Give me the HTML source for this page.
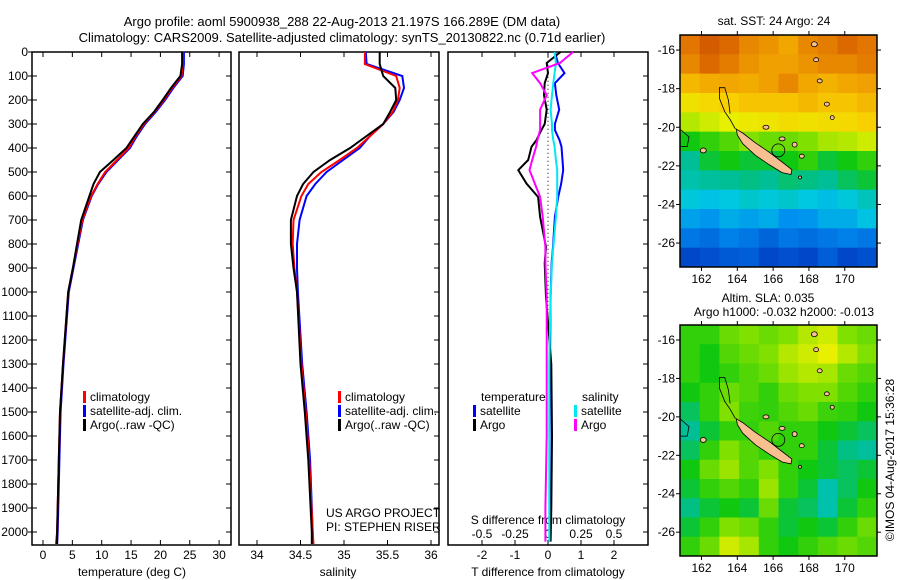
<!DOCTYPE html>
<html><head><meta charset="utf-8">
<style>
html,body{margin:0;padding:0;background:#fff;}
svg{display:block;font-family:"Liberation Sans",sans-serif;}
text{font-size:12px;fill:#000;}
</style></head>
<body>
<svg id="chart" width="900" height="580" viewBox="0 0 900 580" xmlns="http://www.w3.org/2000/svg">
<text x="342" y="26" text-anchor="middle" style="font-size:13px">Argo profile: aoml 5900938_288 22-Aug-2013 21.197S 166.289E (DM data)</text>
<text x="342" y="42" text-anchor="middle" style="font-size:13px">Climatology: CARS2009. Satellite-adjusted climatology: synTS_20130822.nc (0.71d earlier)</text>
<g id="g"></g>
<text x="774" y="25" text-anchor="middle">sat. SST: 24 Argo: 24</text>
<text x="768" y="302" text-anchor="middle">Altim. SLA: 0.035</text>
<text x="784" y="316" text-anchor="middle">Argo h1000: -0.032 h2000: -0.013</text>
<text transform="translate(894,460) rotate(-90)" text-anchor="middle">©IMOS 04-Aug-2017 15:36:28</text>
<text x="326" y="517">US ARGO PROJECT</text>
<text x="326" y="531">PI: STEPHEN RISER</text>
</svg>
<script>
// ---- profile data ----
const depths = [0,50,100,150,200,250,300,350,400,450,500,550,600,700,800,900,1000,1300,1500,1700,2000,2050];
const tempClim = [23.8,23.8,23.6,22.0,20.6,19.0,17.2,15.8,14.6,12.6,10.6,9.3,8.2,6.7,5.9,5.1,4.3,3.4,2.9,2.7,2.4,2.2];
const tempSat  = [24.0,24.0,23.8,22.2,20.8,19.2,17.4,16.0,14.8,12.8,10.8,9.4,8.3,6.8,6.0,5.2,4.4,3.5,3.0,2.8,2.5,2.4];
const tempArgo = [23.7,23.7,23.4,21.8,20.4,18.9,17.0,15.6,14.2,12.0,9.7,8.6,7.9,6.5,5.8,5.1,4.3,3.4,2.9,2.7,2.4,2.4];
const salClim = [35.24,35.24,35.6,35.64,35.62,35.56,35.45,35.3,35.15,34.95,34.74,34.59,34.51,34.42,34.41,34.43,34.46,34.51,34.56,34.6,34.64,34.65];
const salSat  = [35.25,35.26,35.67,35.69,35.64,35.57,35.45,35.3,35.18,34.99,34.8,34.67,34.57,34.49,34.46,34.46,34.47,34.52,34.57,34.61,34.64,34.64];
const salArgo = [35.41,35.41,35.45,35.59,35.6,35.53,35.45,35.26,35.07,34.84,34.65,34.53,34.46,34.39,34.39,34.42,34.46,34.5,34.55,34.59,34.63,34.63];
const diffDepths = [0,46,88,130,180,240,300,325,367,395,450,492,548,604,687,812,880,1020,1300,1600,1900,2040];
const tDiffArgo = [0.38,-0.04,0.0,-0.1,-0.12,-0.04,-0.1,-0.2,-0.35,-0.5,-0.6,-0.9,-0.65,-0.3,-0.24,-0.06,-0.1,-0.06,0.1,0.12,0.1,0.08];
const tDiffSat  = [0.21,0.3,0.5,0.21,0.25,0.34,0.21,0.21,0.35,0.41,0.44,0.46,0.4,0.31,0.21,0.15,0.11,0.08,0.06,0.05,0.05,0.05];
const sDiffArgo = [0.19,0.09,-0.12,-0.06,-0.01,-0.06,-0.06,-0.06,-0.08,-0.09,-0.12,-0.14,-0.1,-0.06,-0.04,-0.02,-0.02,-0.01,-0.01,-0.01,-0.02,-0.02];
const sDiffSat  = [0.05,0.06,0.05,0.04,0.03,0.02,0.03,0.03,0.04,0.05,0.06,0.07,0.07,0.07,0.06,0.04,0.03,0.02,0.01,0.01,0.01,0.01];
const depthTicks = [0,100,200,300,400,500,600,700,800,900,1000,1100,1200,1300,1400,1500,1600,1700,1800,1900,2000];
const tempTicks = [0,5,10,15,20,25,30];
const salTicks = [34,34.5,35,35.5,36];
const salTickLabels = ["34","34.5","35","35.5","36"];
const tdTicks = [-2,-1,0,1,2];
const sdTicks = [-0.5,-0.25,0,0.25,0.5];
const sdTickLabels = ["-0.5","-0.25","0","0.25","0.5"];
const lonTicks = [162,164,166,168,170];
const latTicks = [-16,-18,-20,-22,-24,-26];
// ---- map data (rows north->south, cols west->east), normalized colour value ----
const sstGrid = [
[.93,.97,.95,.90,.88,.85,.90,.92,.95,.93],
[.90,.95,.92,.88,.86,.86,.88,.90,.90,.92],
[.82,.84,.85,.84,.86,.90,.85,.83,.85,.86],
[.74,.76,.78,.80,.80,.80,.82,.80,.80,.82],
[.66,.68,.70,.72,.73,.75,.74,.75,.76,.78],
[.52,.55,.58,.62,.60,.60,.62,.65,.66,.68],
[.45,.50,.52,.50,.50,.52,.55,.50,.52,.55],
[.42,.44,.45,.46,.45,.47,.46,.45,.48,.50],
[.36,.34,.35,.38,.36,.38,.35,.33,.36,.40],
[.28,.26,.30,.28,.30,.25,.26,.30,.30,.34],
[.20,.18,.22,.20,.16,.20,.18,.20,.22,.20],
[.10,.12,.14,.15,.10,.12,.10,.15,.10,.12]];
const slaGrid = [
[.55,.55,.60,.62,.60,.62,.66,.68,.62,.60],
[.55,.52,.58,.60,.62,.66,.68,.70,.66,.62],
[.55,.52,.55,.58,.60,.64,.66,.65,.60,.58],
[.52,.55,.60,.58,.55,.60,.62,.62,.58,.55],
[.48,.55,.62,.56,.55,.58,.60,.56,.55,.52],
[.45,.50,.55,.55,.58,.55,.55,.52,.50,.48],
[.48,.55,.62,.58,.55,.55,.55,.50,.46,.44],
[.52,.60,.64,.58,.62,.55,.52,.50,.48,.50],
[.50,.55,.58,.55,.64,.55,.50,.42,.48,.52],
[.46,.50,.52,.50,.60,.50,.48,.42,.50,.55],
[.50,.55,.62,.60,.55,.50,.52,.50,.55,.60],
[.55,.60,.68,.65,.55,.52,.55,.58,.60,.58]];

const NS="http://www.w3.org/2000/svg";
const G=document.getElementById('g');
function el(tag,attrs,parent){const e=document.createElementNS(NS,tag);for(const k in attrs)e.setAttribute(k,attrs[k]);(parent||G).appendChild(e);return e;}
function txt(x,y,s,anchor,name){const t=el('text',{x:x,y:y,'text-anchor':anchor||'start'});t.textContent=s;


return t;}

const yD=d=>52+0.24*d;
const PB=545;
const panels=[
 {x0:32,x1:231,f:v=>43+5.87*v,name:'temperature-panel'},
 {x0:239,x1:439,f:v=>257+87*(v-34),name:'salinity-panel'},
 {x0:448,x1:648,f:v=>548+33*v,name:'difference-panel'}];
panels.forEach((p,i)=>{
 const r=el('rect',{x:p.x0,y:52,width:p.x1-p.x0,height:PB-52,fill:'none',stroke:'#000','stroke-width':1.5});
 
 
 depthTicks.forEach(d=>{
  el('line',{x1:p.x1,x2:p.x1-5,y1:yD(d),y2:yD(d),stroke:'#000'});
  if(i===0) el('line',{x1:p.x0,x2:p.x0+5,y1:yD(d),y2:yD(d),stroke:'#000'});
 });
});
depthTicks.forEach(d=>{txt(28,yD(d)+4,String(d),'end','depth-tick-label');
 el('line',{x1:28,x2:32,y1:yD(d),y2:yD(d),stroke:'#000'});});
function xticks(p,ticks,labels,ly){ticks.forEach((v,k)=>{const x=p.f(v);
 el('line',{x1:x,x2:x,y1:52,y2:57,stroke:'#000'});el('line',{x1:x,x2:x,y1:PB,y2:PB-5,stroke:'#000'});
 txt(x,ly,labels[k],'middle','x-tick-label');});}
xticks(panels[0],tempTicks,tempTicks.map(String),559);
xticks(panels[1],salTicks,salTickLabels,559);
xticks(panels[2],tdTicks,tdTicks.map(String),559);
sdTicks.forEach((v,k)=>txt(548+132*v,538,sdTickLabels[k],'middle','s-diff-tick-label'));
txt(132,576,'temperature (deg C)','middle','x-axis-title-temperature');
txt(338,576,'salinity','middle','x-axis-title-salinity');
txt(548,576,'T difference from climatology','middle','x-axis-title-t-diff');
txt(548,524,'S difference from climatology','middle','x-axis-title-s-diff');
el('line',{x1:548,x2:548,y1:yD(20),y2:yD(1100),stroke:'#000','stroke-dasharray':'1,3'});
function line(xs,ys,fx,col,name){const pts=xs.map((v,k)=>fx(v).toFixed(1)+','+yD(ys[k]).toFixed(1)).join(' ');
 const l=el('polyline',{points:pts,fill:'none',stroke:col,'stroke-width':2});
 
 }
const fT=panels[0].f,fS=panels[1].f,fTD=v=>548+33*v,fSD=v=>548+132*v;
line(tempSat,depths,fT,'#0000ff','temp-satellite-line');
line(tempClim,depths,fT,'#ff0000','temp-climatology-line');
line(tempArgo,depths,fT,'#000','temp-argo-line');
line(salSat,depths,fS,'#0000ff','sal-satellite-line');
line(salClim,depths,fS,'#ff0000','sal-climatology-line');
line(salArgo,depths,fS,'#000','sal-argo-line');
line(tDiffSat,diffDepths,fTD,'#0000ff','tdiff-satellite-line');
line(tDiffArgo,diffDepths,fTD,'#000','tdiff-argo-line');
line(sDiffSat,diffDepths,fSD,'#00e8f0','sdiff-satellite-line');
line(sDiffArgo,diffDepths,fSD,'#ff00ff','sdiff-argo-line');
function leg(x,y,col,s,name){el('rect',{x:x,y:y-10,width:3,height:12,fill:col});txt(x+7,y,s,'start',name);}
[[83,'climatology-legend'],[338,'climatology-legend-2']].forEach(([x,n])=>{
 leg(x,401,'#ff0000','climatology',n);leg(x,415,'#0000ff','satellite-adj. clim.','satellite-legend');leg(x,429,'#000','Argo(..raw -QC)','argo-legend');});
txt(481,401,'temperature','start','legend-temperature-heading');
leg(473,415,'#0000ff','satellite','legend-t-satellite');leg(473,429,'#000','Argo','legend-t-argo');
txt(582,401,'salinity','start','legend-salinity-heading');
leg(574,415,'#00e8f0','satellite','legend-s-satellite');leg(574,429,'#ff00ff','Argo','legend-s-argo');

const stops=[[0,[0,32,160]],[.12,[0,80,208]],[.25,[0,144,240]],[.35,[0,200,224]],[.45,[0,190,150]],[.52,[16,200,16]],[.62,[128,224,0]],[.7,[232,240,0]],[.78,[248,208,0]],[.86,[240,160,0]],[.94,[224,112,0]],[1,[200,72,0]]];
function cmap(v){for(let i=1;i<stops.length;i++){if(v<=stops[i][0]){const a=stops[i-1],b=stops[i],t=(v-a[0])/(b[0]-a[0]);
 return 'rgb('+a[1].map((c,k)=>Math.round(c+(b[1][k]-c)*t)).join(',')+')';}}return 'rgb(200,72,0)';}
const lon0=160.8,lon1=171.8,lat0=-15.22,lat1=-27.24;
function drawMap(top,bottom,grid,name){
 const L=680,R=877,fx=lo=>L+(lo-lon0)/(lon1-lon0)*(R-L),fy=la=>top+(la-lat0)/(lat1-lat0)*(bottom-top);
 const g=el('g',{});
 
 
 const nr=grid.length,nc=grid[0].length,cw=(R-L)/nc,ch=(bottom-top)/nr;
 grid.forEach((row,r)=>row.forEach((v,c)=>{el('rect',{x:L+c*cw,y:top+r*ch,width:cw+0.5,height:ch+0.5,fill:cmap(v)},g);}));
 const P=pts=>pts.map(p=>fx(p[0]).toFixed(1)+','+fy(p[1]).toFixed(1)).join(' ');
 el('polygon',{points:P([[163.95,-20.1],[164.3,-20.3],[165,-20.8],[165.8,-21.3],[166.5,-21.8],[167.05,-22.2],[167.0,-22.45],[166.5,-22.35],[165.8,-21.95],[165,-21.45],[164.3,-20.85],[164.0,-20.4]]),fill:'#f8c090',stroke:'#000','stroke-width':0.8},g);
 el('polyline',{points:P([[163.9,-20.1],[163.6,-19.6],[163.3,-19.2],[163.0,-18.5],[163.0,-17.95],[163.3,-17.95],[163.5,-18.6],[163.6,-19.3]]),fill:'none',stroke:'#000','stroke-width':0.8},g);
 el('polyline',{points:P([[160.8,-20.1],[161.3,-20.5],[161.2,-21.0],[160.8,-21.0]]),fill:'none',stroke:'#000','stroke-width':0.8},g);
 [[162.1,-21.2,3,2.5],[165.6,-20,3,2],[166.5,-20.6,3,2],[167.2,-20.9,2.5,2.5],[167.6,-21.5,2.5,2],[168.3,-15.7,3,2.5],[168.4,-16.5,2.5,2],[168.6,-17.6,2.5,2],[169.0,-18.8,2.5,2],[169.3,-19.5,2,2],[167.5,-22.6,1.5,1.5]].forEach(s=>
  el('ellipse',{cx:fx(s[0]),cy:fy(s[1]),rx:s[2],ry:s[3],fill:'#f8c090',stroke:'#000','stroke-width':0.8},g));
 el('circle',{cx:fx(166.289),cy:fy(-21.197),r:6.5,fill:'none',stroke:'#000','stroke-width':0.8},g);
 el('rect',{x:L,y:top,width:R-L,height:bottom-top,fill:'none',stroke:'#000','stroke-width':1.5},g);
 lonTicks.forEach(lo=>{const x=fx(lo);el('line',{x1:x,x2:x,y1:top,y2:top-4,stroke:'#000'},g);el('line',{x1:x,x2:x,y1:bottom,y2:bottom+4,stroke:'#000'},g);
  txt(x,bottom+16,String(lo),'middle','lon-tick-label');});
 latTicks.forEach(la=>{const y=fy(la);el('line',{x1:L,x2:L-4,y1:y,y2:y,stroke:'#000'},g);el('line',{x1:R,x2:R+4,y1:y,y2:y,stroke:'#000'},g);
  txt(L-5,y+4,String(la),'end','lat-tick-label');});
}
drawMap(35,267,sstGrid,'sst-map');
drawMap(325,556,slaGrid,'sla-map');
</script>
</body></html>
